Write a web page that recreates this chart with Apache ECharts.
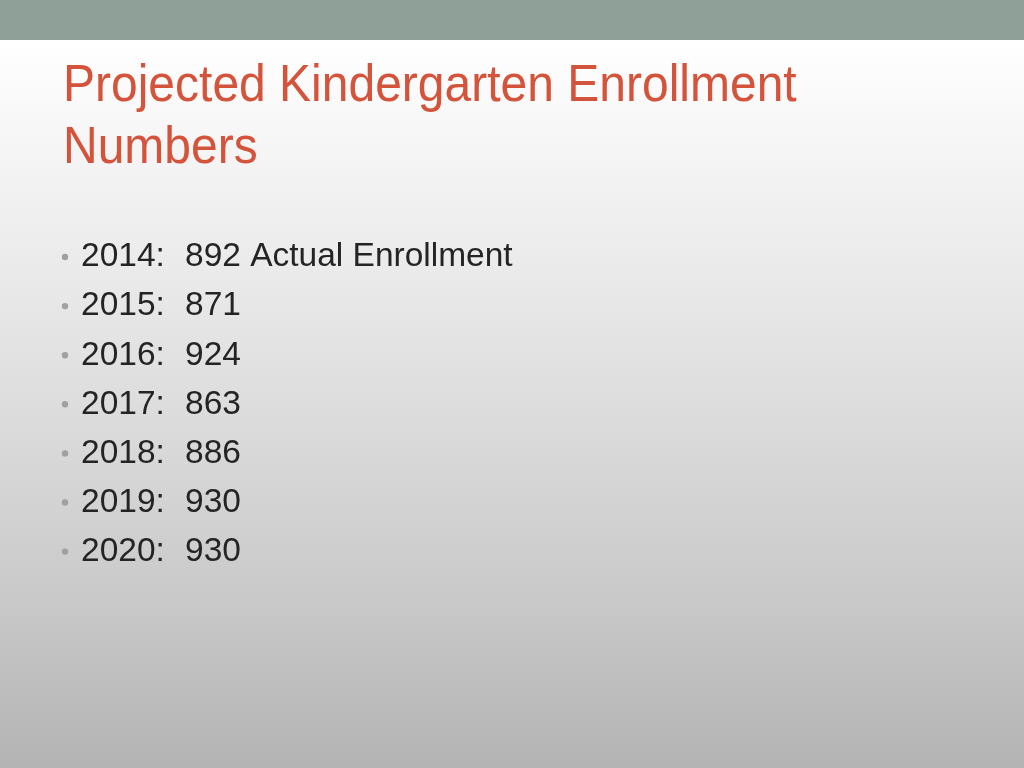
<!DOCTYPE html>
<html>
<head>
<meta charset="utf-8">
<script src="https://cdn.jsdelivr.net/npm/echarts@6/dist/echarts.min.js"></script>
<style>
  html, body { margin: 0; padding: 0; }
  #slide { width: 1024px; height: 768px; }
</style>
</head>
<body>
<div id="slide"></div>
<script>
// slide data
var titleLines = ['Projected Kindergarten Enrollment', 'Numbers'];
var years = ['2014:', '2015:', '2016:', '2017:', '2018:', '2019:', '2020:'];
var enrollment = [892, 871, 924, 863, 886, 930, 930];
var notes = ['Actual Enrollment', '', '', '', '', '', ''];

var myChart = echarts.init(document.getElementById('slide'));

var elements = [];

// background gradient + top band
elements.push({
  type: 'rect',
  shape: { x: 0, y: 40, width: 1024, height: 728 },
  style: {
    fill: new echarts.graphic.LinearGradient(0, 0, 0, 1, [
      { offset: 0, color: '#ffffff' },
      { offset: 0.35, color: '#e8e8e8' },
      { offset: 0.77, color: '#c9c9c9' },
      { offset: 1, color: '#b3b3b3' }
    ])
  },
  silent: true
});
elements.push({
  type: 'rect',
  shape: { x: 0, y: 0, width: 1024, height: 40 },
  style: { fill: '#8fa098' },
  silent: true
});

// title (slightly condensed like the original face)
titleLines.forEach(function (line, i) {
  elements.push({
    type: 'text',
    x: 63,
    y: 87 + i * 61.5,
    scaleX: 0.923,
    style: {
      text: line,
      fontFamily: 'Liberation Sans',
      fontSize: 52,
      fill: '#d4533b',
      verticalAlign: 'middle'
    }
  });
});

// bullets
years.forEach(function (yr, i) {
  var cy = 257 + i * 49.1;
  var val = enrollment[i] + (notes[i] ? ' ' + notes[i] : '');
  elements.push({
    type: 'circle',
    shape: { cx: 65, cy: cy, r: 3.2 },
    style: { fill: '#a0a0a0' }
  });
  elements.push({
    type: 'text',
    x: 81,
    y: cy,
    scaleX: 0.985,
    style: {
      text: yr,
      fontFamily: 'Liberation Sans',
      fontSize: 34,
      fill: '#242424',
      verticalAlign: 'middle'
    }
  });
  elements.push({
    type: 'text',
    x: 185,
    y: cy,
    scaleX: 0.985,
    style: {
      text: val,
      fontFamily: 'Liberation Sans',
      fontSize: 34,
      fill: '#242424',
      verticalAlign: 'middle'
    }
  });
});

var option = {
  animation: false,
  graphic: { elements: elements }
};

myChart.setOption(option);
</script>
</body>
</html>
